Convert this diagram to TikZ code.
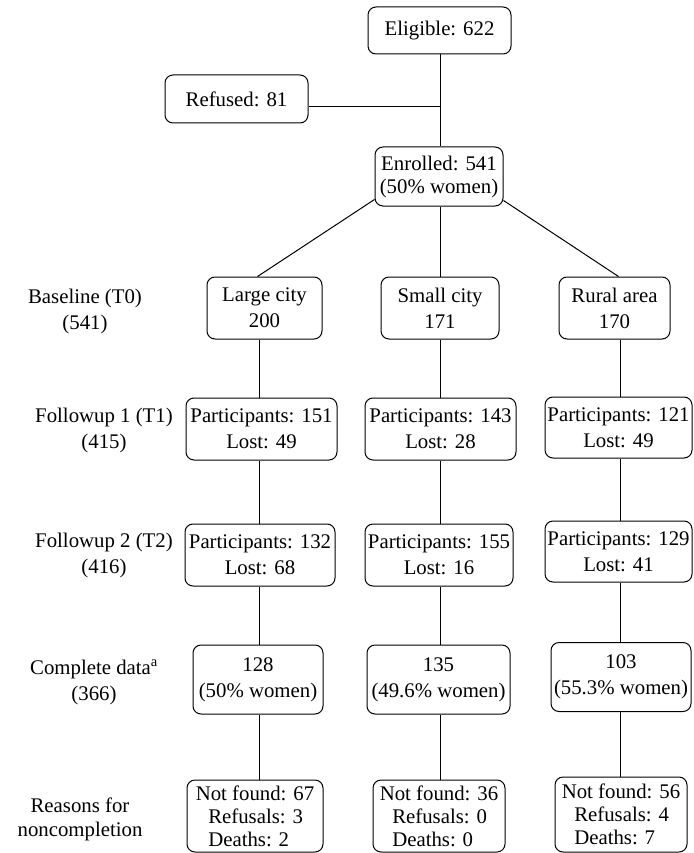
\documentclass[tikz,border=0pt]{standalone}
\usepackage{fontspec}
\setmainfont{LiberationSerif}[Extension=.ttf, UprightFont=*-Regular, BoldFont=*-Bold, ItalicFont=*-Italic, BoldItalicFont=*-BoldItalic]
\begin{document}
\begin{tikzpicture}[x=1pt,y=-1pt,
  every node/.style={font=\fontsize{20.8}{26}\selectfont},
  bx/.style={draw, line width=1pt, rounded corners=8pt, inner sep=0pt, align=center},
  bxr/.style={bx, align=left, font=\fontsize{20.8}{23}\selectfont},
  lab/.style={align=center, inner sep=0pt},
  ln/.style={line width=1pt}]
\useasboundingbox (0,0) rectangle (693,853);
% columns
\coordinate (colL) at (259,0);
\coordinate (colM) at (440,0);
\coordinate (colR) at (620,0);
% top
\node[bx, minimum width=143pt, minimum height=47pt] (elig) at (439.5,30.5) {Eligible: 622};
\node[bx, minimum width=143pt, minimum height=48pt] (ref) at (236.5,99) {Refused: 81};
\node[bx, minimum width=128pt, minimum height=59pt, font=\fontsize{20.8}{23}\selectfont] (enr) at (439,176.5) {Enrolled: 541\\(50\% women)};
% baseline
\node[bx, minimum width=115pt, minimum height=62pt] (b1) at (264.5,308) {Large city\\200};
\node[bx, minimum width=118pt, minimum height=62pt] (b2) at (440,308) {Small city\\171};
\node[bx, minimum width=111pt, minimum height=62pt] (b3) at (614.5,308) {Rural area\\170};
% followup 1
\node[bx, minimum width=151pt, minimum height=62pt] (f1a) at (261.5,429) {Participants: 151\\Lost: 49};
\node[bx, minimum width=151pt, minimum height=62pt] (f1b) at (440.5,429) {Participants: 143\\Lost: 28};
\node[bx, minimum width=147pt, minimum height=61pt] (f1c) at (618.5,427.5) {Participants: 121\\Lost: 49};
% followup 2
\node[bx, minimum width=150pt, minimum height=62pt] (f2a) at (260,555) {Participants: 132\\Lost: 68};
\node[bx, minimum width=148pt, minimum height=62pt] (f2b) at (439,555) {Participants: 155\\Lost: 16};
\node[bx, minimum width=147pt, minimum height=61pt] (f2c) at (618.5,551.5) {Participants: 129\\Lost: 41};
% complete
\node[bx, minimum width=130pt, minimum height=69pt] (ca) at (258,679.5) {128\\(50\% women)};
\node[bx, minimum width=143pt, minimum height=69pt] (cb) at (438.5,679.5) {135\\(49.6\% women)};
\node[bx, minimum width=140pt, minimum height=69pt] (cc) at (621,677) {103\\(55.3\% women)};
% reasons
\node[bxr, minimum width=136pt, minimum height=72pt] (ra) at (255,816) {Not found: 67\\\hspace*{0.6em}Refusals: 3\\\hspace*{0.6em}Deaths: 2};
\node[bxr, minimum width=132pt, minimum height=72pt] (rb) at (439,816) {Not found: 36\\\hspace*{0.6em}Refusals: 0\\\hspace*{0.6em}Deaths: 0};
\node[bxr, minimum width=132pt, minimum height=75pt] (rc) at (621,814.5) {Not found: 56\\\hspace*{0.6em}Refusals: 4\\\hspace*{0.6em}Deaths: 7};
% row labels
\node[lab] (l0) at (85,311) {Baseline (T0)\\(541)};
\node[lab] (l1) at (104,430) {Followup 1 (T1)\\(415)};
\node[lab] (l2) at (104,555) {Followup 2 (T2)\\(416)};
\node[lab] (l3) at (94,682) {Complete data\textsuperscript{a}\\(366)};
\node[lab, font=\fontsize{20.8}{24}\selectfont] (l4) at (80,819) {Reasons for\\noncompletion};
% connectors
\draw[ln] (elig.south -| colM) -- (enr.north -| colM);
\draw[ln] ([yshift=-8pt]ref.east) -- ([yshift=-8pt]ref.east -| colM);
\draw[ln] ([yshift=7pt]enr.south west) -- ([xshift=-7pt]b1.north);
\draw[ln] (enr.south -| colM) -- (b2.north -| colM);
\draw[ln] ([yshift=6pt]enr.south east) -- ([xshift=4pt]b3.north);
\foreach \c/\a/\b in {colL/b1/f1a, colL/f1a/f2a, colL/f2a/ca, colL/ca/ra,
                      colM/b2/f1b, colM/f1b/f2b, colM/f2b/cb, colM/cb/rb,
                      colR/b3/f1c, colR/f1c/f2c, colR/f2c/cc, colR/cc/rc}
  \draw[ln] (\a.south -| \c) -- (\b.north -| \c);
\end{tikzpicture}
\end{document}
